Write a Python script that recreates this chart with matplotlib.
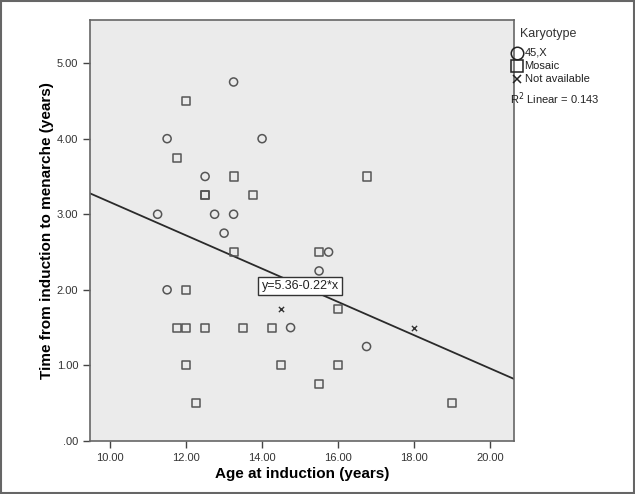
import numpy as np
import matplotlib.pyplot as plt
from matplotlib.lines import Line2D
from matplotlib.ticker import FuncFormatter

plt.rcParams['font.family'] = ['Liberation Sans', 'DejaVu Sans']

# data (x = age at induction, y = time to menarche)
x_45x = [13.25, 11.5, 14.0, 12.5, 11.25, 12.75, 13.25, 13.0, 11.5, 15.5, 15.75, 14.75, 16.75]
y_45x = [4.75, 4.0, 4.0, 3.5, 3.0, 3.0, 3.0, 2.75, 2.0, 2.25, 2.5, 1.5, 1.25]

x_mosaic = [12.0, 11.75, 13.25, 12.5, 12.5, 13.75, 16.75, 13.25, 12.0, 15.5, 11.75,
            12.0, 12.5, 13.5, 14.25, 16.0, 12.0, 14.5, 16.0, 12.25, 15.5, 19.0]
y_mosaic = [4.5, 3.75, 3.5, 3.25, 3.25, 3.25, 3.5, 2.5, 2.0, 2.5, 1.5,
            1.5, 1.5, 1.5, 1.5, 1.75, 1.0, 1.0, 1.0, 0.5, 0.75, 0.5]

x_na = [14.5, 18.0]
y_na = [1.75, 1.5]

intercept = 5.36
slope = -0.22
r2 = 0.143

xticks = [10, 12, 14, 16, 18, 20]
yticks = [0, 1, 2, 3, 4, 5]

legend_labels = ['45,X', 'Mosaic', 'Not available']

fig = plt.figure(figsize=(6.35, 4.94), dpi=100)
ax = fig.add_axes([0.1417, 0.1073, 0.6677, 0.8522])
ax.set_facecolor('#ebebeb')

mk_col = '#555555'
ax.scatter(x_45x, y_45x, marker='o', s=34, facecolors='none', edgecolors=mk_col, linewidths=1.1, zorder=3)
ax.scatter(x_mosaic, y_mosaic, marker='s', s=34, facecolors='none', edgecolors=mk_col, linewidths=1.1, zorder=3)
ax.scatter(x_na, y_na, marker='x', s=14, color='#333333', linewidths=1.0, zorder=3)

xlim = (9.47, 20.63)
ax.set_xlim(xlim)
ax.set_ylim(0, 5.57)
xx = np.array(xlim)
ax.plot(xx, intercept + slope * xx, color='#2a2a2a', lw=1.3, zorder=2)

ax.text(15.0, 2.05, f'y={intercept:.2f}-{abs(slope):.2f}*x', ha='center', va='center', fontsize=9,
        color='#222222', zorder=4,
        bbox=dict(boxstyle='square,pad=0.25', facecolor='white', edgecolor='#333333', lw=1.0))

ax.set_xticks(xticks)
ax.set_yticks(yticks)
ax.xaxis.set_major_formatter(FuncFormatter(lambda v, p: f'{v:.2f}'))
ax.yaxis.set_major_formatter(FuncFormatter(lambda v, p: '.00' if v == 0 else f'{v:.2f}'))
ax.tick_params(length=5, width=1, color='#444444', labelsize=8, labelcolor='#333333')
for s in ax.spines.values():
    s.set_color('#666666')
    s.set_linewidth(1.2)

ax.set_xlabel('Age at induction (years)', fontsize=11, fontweight='bold', labelpad=3)
ax.set_ylabel('Time from induction to menarche (years)', fontsize=11, fontweight='bold', labelpad=2)

# legend drawn by hand to match the SPSS layout
fig.text(0.819, 0.931, 'Karyotype', fontsize=9, color='#333333', va='center')
leg_y = [0.893, 0.866, 0.840]
leg_mk = [('o', 9), ('s', 9), ('x', 6)]
for yy, (m, ms), lab in zip(leg_y, leg_mk, legend_labels):
    fig.add_artist(Line2D([0.814], [yy], transform=fig.transFigure, marker=m, ls='',
                          mfc='none', mec='#222222', mew=1.1, ms=ms))
    fig.text(0.826, yy, lab, fontsize=8, color='#222222', va='center')
fig.text(0.803, 0.80, f'R$^2$ Linear = {r2}', fontsize=8, color='#222222', va='center')

# outer frame
fig.patches.append(plt.Rectangle((0.002, 0.002), 0.996, 0.996, transform=fig.transFigure,
                                 fill=False, edgecolor='#666666', lw=1.5))

fig.savefig('out.png', dpi=100)
